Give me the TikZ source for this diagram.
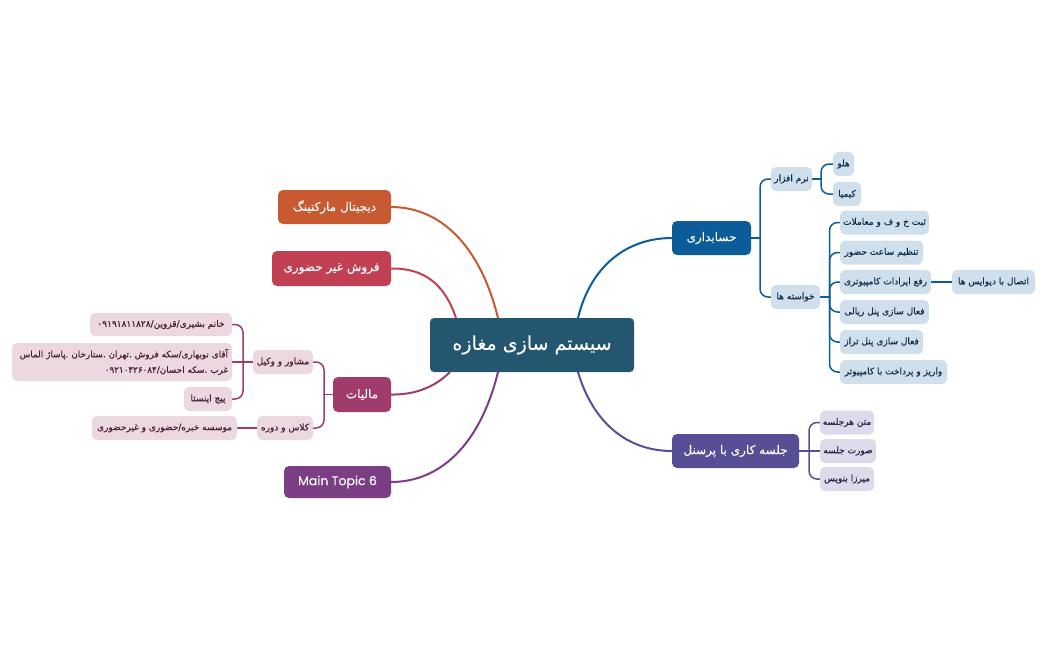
\documentclass[tikz,border=0pt]{standalone}
\usepackage{fontspec}
\setmainfont{DejaVu Sans}
\newfontfamily\farsi[Script=Arabic,FakeBold=0.25]{DejaVu Sans}
\newfontfamily\popp[FakeBold=0.25]{Poppins}
\TeXXeTstate=1
\usetikzlibrary{backgrounds}
\newcommand{\fa}[1]{\raisebox{-0.14em}{\farsi\beginR #1\endR}}
\definecolor{cCentral}{HTML}{24566F}
\definecolor{cAcc}{HTML}{0B5C99}
\definecolor{cMeet}{HTML}{574F96}
\definecolor{cDig}{HTML}{C85A32}
\definecolor{cSale}{HTML}{C24054}
\definecolor{cTax}{HTML}{A03C6B}
\definecolor{cMain}{HTML}{7B3E85}
\definecolor{lAcc}{HTML}{D0DFEC}
\definecolor{lMeet}{HTML}{DDDBEA}
\definecolor{lTax}{HTML}{ECD8E1}
\definecolor{tAcc}{HTML}{0E2F4C}
\definecolor{tMeet}{HTML}{231F45}
\definecolor{tTax}{HTML}{4A1C35}
\tikzset{
  boxbase/.style={inner sep=0pt,outer sep=0pt,align=center,rounded corners=5pt},
  central/.style={boxbase,fill=cCentral,text=white,rounded corners=4pt,font=\fontsize{19}{22}\selectfont},
  topic/.style={boxbase,fill=#1,text=white,font=\fontsize{12}{14}\selectfont},
  childa/.style={boxbase,fill=lAcc,text=tAcc,font=\fontsize{9}{11}\selectfont},
  childm/.style={boxbase,fill=lMeet,text=tMeet,font=\fontsize{9}{11}\selectfont},
  childt/.style={boxbase,fill=lTax,text=tTax,font=\fontsize{9}{11}\selectfont},
  wire/.style={line width=#1,line cap=round},
  wire/.default=1.5pt,
  arc/.style={line width=2pt}
}
\begin{document}
\begin{tikzpicture}[x=1pt,y=-1pt]
\useasboundingbox (0,0) rectangle (1048,650);
% central
\node[central,minimum width=204pt,minimum height=54pt] (c) at (532,345) {\fa{سیستم سازی مغازه}};
\coordinate (cna) at (578,318);
\coordinate (cnd) at (498,318);
\coordinate (cns) at (456,318);
\coordinate (cst) at (450,372);
\coordinate (csm) at (498,372);
\coordinate (csj) at (578,372);
% topics
\node[topic=cAcc,minimum width=79pt,minimum height=34pt] (acc) at (711.5,238) {\fa{حسابداری}};
\node[topic=cMeet,minimum width=127pt,minimum height=34pt] (meet) at (735.5,451) {\fa{جلسه کاری با پرسنل}};
\node[topic=cDig,minimum width=113pt,minimum height=34pt] (dig) at (334.5,207) {\fa{دیجیتال مارکتینگ}};
\node[topic=cSale,minimum width=119pt,minimum height=35pt] (sale) at (331.5,268.5) {\fa{فروش غیر حضوری}};
\node[topic=cTax,minimum width=58pt,minimum height=35pt] (tax) at (362,394.5) {\fa{مالیات}};
\node[topic=cMain,minimum width=107pt,minimum height=32pt,font=\fontsize{12.5}{15}\popp] (mt) at (337.5,482) {Main Topic 6};
% accounting children
\node[childa,minimum width=41pt,minimum height=24pt] (nrm) at (791.5,179) {\fa{نرم افزار}};
\node[childa,minimum width=21pt,minimum height=24pt] (hlo) at (843.5,164) {\fa{هلو}};
\node[childa,minimum width=28pt,minimum height=24pt] (kim) at (847,194) {\fa{کیمیا}};
\node[childa,minimum width=49pt,minimum height=24pt] (khw) at (795.5,297) {\fa{خواسته ها}};
\node[childa,minimum width=89pt,minimum height=24pt] (sbt) at (884.5,222.5) {\fa{ثبت خ و ف و معاملات}};
\node[childa,minimum width=83pt,minimum height=24pt] (tnz) at (881.5,252.5) {\fa{تنظیم ساعت حضور}};
\node[childa,minimum width=91pt,minimum height=24pt] (rfa) at (885.5,282) {\fa{رفع ایرادات کامپیوتری}};
\node[childa,minimum width=89pt,minimum height=24pt] (fry) at (884.5,312) {\fa{فعال سازی پنل ریالی}};
\node[childa,minimum width=83pt,minimum height=24pt] (ftr) at (881.5,342) {\fa{فعال سازی پنل تراز}};
\node[childa,minimum width=107pt,minimum height=24pt] (var) at (893.5,372) {\fa{واریز و پرداخت با کامپیوتر}};
\node[childa,minimum width=83pt,minimum height=24pt] (ets) at (993.5,282) {\fa{اتصال با دیوایس ها}};
% meeting children
\node[childm,minimum width=54pt,minimum height=24pt] (mtn) at (847,422.5) {\fa{متن هرجلسه}};
\node[childm,minimum width=56pt,minimum height=24pt] (srt) at (848,451) {\fa{صورت جلسه}};
\node[childm,minimum width=54pt,minimum height=24pt] (mrz) at (847,479) {\fa{میرزا بنویس}};
% tax children
\node[childt,minimum width=60pt,minimum height=24pt] (msh) at (283,362) {\fa{مشاور و وکیل}};
\node[childt,minimum width=56pt,minimum height=24pt] (kls) at (285,428) {\fa{کلاس و دوره}};
\node[childt,minimum width=142pt,minimum height=23pt] (khn) at (161,324.5) {\fa{خانم بشیری/قزوین/\beginL ۰۹۱۹۱۸۱۱۸۲۸\endL}};
\node[childt,minimum width=220pt,minimum height=38pt,text width=212pt,align=right,font=\fontsize{8.8}{15.5}\selectfont] (agh) at (122,362) {\fa{آقای نوبهاری/سکه فروش .تهران .ستارخان .پاساژ الماس}\\\fa{غرب .سکه احسان/\beginL ۰۹۲۱۰۴۲۶۰۸۴\endL}};
\node[childt,minimum width=48pt,minimum height=24pt] (pij) at (208,399) {\fa{پیج اینستا}};
\node[childt,minimum width=145pt,minimum height=24pt] (mss) at (164.5,428) {\fa{موسسه خبره/حضوری و غیرحضوری}};
% junctions
\coordinate (jacc) at (760,238);
\coordinate (jnrm) at (821,179);
\coordinate (jkhw) at (829.5,297);
\coordinate (jmeet) at (809,451);
\coordinate (jtax) at (324,394.5);
\coordinate (jmsh) at (243,362);
\begin{pgfonlayer}{background}
\draw[arc,cAcc] (cna) .. controls (590,268) and (625,238) .. (acc.west);
\draw[arc,cMeet] (csj) .. controls (592,420) and (625,451) .. (meet.west);
\draw[arc,cDig] (cnd) .. controls (480,245) and (440,207) .. (dig.east);
\draw[arc,cSale] (cns) .. controls (445,285) and (425,268) .. (sale.east);
\draw[arc,cTax] (cst) .. controls (435,387) and (415,395) .. (tax.east);
\draw[arc,cMain] (csm) .. controls (480,445) and (440,482) .. (mt.east);
% accounting tree
\draw[wire,cAcc] (acc.east) -- (jacc);
\draw[wire,cAcc,rounded corners=8pt] (nrm.west) -| (jacc) |- (khw.west);
\draw[wire,cAcc] (nrm.east) -- (jnrm);
\draw[wire,cAcc,rounded corners=8pt] (hlo.west) -| (jnrm) |- (kim.west);
\draw[wire,cAcc] (khw.east) -- (jkhw);
\draw[wire,cAcc,rounded corners=8pt] (sbt.west) -| (jkhw) |- (var.west);
\draw[wire,cAcc,rounded corners=8pt] (jkhw) |- (tnz.west);
\draw[wire,cAcc,rounded corners=8pt] (jkhw) |- (rfa.west);
\draw[wire,cAcc,rounded corners=8pt] (jkhw) |- (fry.west);
\draw[wire,cAcc,rounded corners=8pt] (jkhw) |- (ftr.west);
\draw[wire,cAcc] (rfa.east) -- (ets.west);
% meeting tree
\draw[wire,cMeet] (meet.east) -- (srt.west);
\draw[wire,cMeet,rounded corners=8pt] (mtn.west) -| (jmeet) |- (mrz.west);
% tax tree
\draw[wire,cTax] (tax.west) -- (jtax);
\draw[wire,cTax,rounded corners=8pt] (msh.east) -| (jtax) |- (kls.east);
\draw[wire,cTax,rounded corners=8pt] (khn.east) -| (jmsh) |- (pij.east);
\draw[wire,cTax] (msh.west) -- (agh.east);
\draw[wire,cTax] (kls.west) -- (mss.east);
\end{pgfonlayer}
\end{tikzpicture}
\end{document}
